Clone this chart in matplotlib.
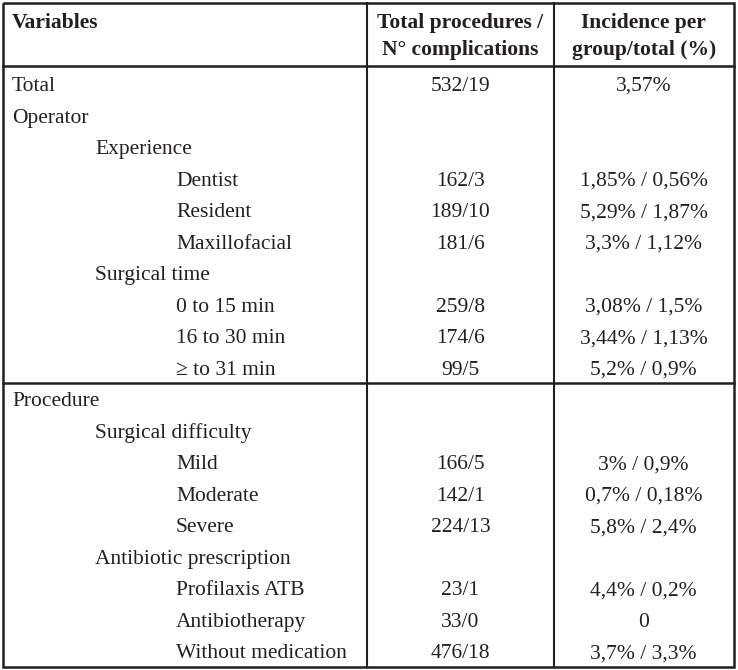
import matplotlib
matplotlib.use("Agg")
import matplotlib.pyplot as plt

# ---- data ----
header_variables = "Variables"
header_procedures = "Total procedures /\nN° complications"
header_incidence = "Incidence per\ngroup/total (%)"

variables = ["Total", "Operator", "Experience", "Dentist", "Resident", "Maxillofacial",
             "Surgical time", "0 to 15 min", "16 to 30 min", "\u2265 to 31 min",
             "Procedure", "Surgical difficulty", "Mild", "Moderate", "Severe",
             "Antibiotic prescription", "Profilaxis ATB", "Antibiotherapy",
             "Without medication"]
levels = [0, 0, 1, 2, 2, 2, 1, 2, 2, 2, 0, 1, 2, 2, 2, 1, 2, 2, 2]
procedures = ["532/19", "", "", "162/3", "189/10", "181/6", "", "259/8", "174/6", "99/5",
              "", "", "166/5", "142/1", "224/13", "", "23/1", "33/0", "476/18"]
incidence = ["3,57%", "", "", "1,85% / 0,56%", "5,29% / 1,87%", "3,3% / 1,12%", "",
             "3,08% / 1,5%", "3,44% / 1,13%", "5,2% / 0,9%", "", "", "3% / 0,9%",
             "0,7% / 0,18%", "5,8% / 2,4%", "", "4,4% / 0,2%", "0", "3,7% / 3,3%"]
section_break_after = 9  # index of last row in first section

# ---- layout ----
W, H = 738, 670
fig = plt.figure(figsize=(W / 100, H / 100), dpi=100)
ax = fig.add_axes([0, 0, 1, 1])
ax.set_xlim(0, W)
ax.set_ylim(H, 0)
ax.axis("off")

plt.rcParams["font.family"] = ["Liberation Serif", "DejaVu Serif"]
color = "#231f20"
fs = 15.5

left, right, top, bottom = 2.5, 733.5, 2.5, 667
col1, col2 = 367, 554
header_line = 66
sep_y = 383
base0 = 91.0
row_dy = 31.52
head_base = (28, 55)
indent = {0: 12, 1: 95, 2: 176}

lw_outer = 1.8
lw_inner = 1.5
# outer border
ax.plot([left, right, right, left, left], [top, top, bottom, bottom, top],
        color=color, lw=lw_outer, solid_joinstyle="miter", solid_capstyle="butt")
# column lines
ax.plot([col1, col1], [top, bottom], color=color, lw=lw_inner)
ax.plot([col2, col2], [top, bottom], color=color, lw=lw_inner)
# header line
ax.plot([left, right], [header_line, header_line], color=color, lw=lw_outer)
# section line
ax.plot([left, right], [sep_y, sep_y], color=color, lw=lw_outer)

# header text
ax.text(12, head_base[0], header_variables, ha="left", va="baseline", fontsize=fs,
        fontweight="bold", color=color)
for xc, txt in [((col1 + col2) / 2, header_procedures), ((col2 + right) / 2, header_incidence)]:
    l1, l2 = txt.split("\n")
    ax.text(xc, head_base[0], l1, ha="center", va="baseline", fontsize=fs,
            fontweight="bold", color=color)
    ax.text(xc, head_base[1], l2, ha="center", va="baseline", fontsize=fs,
            fontweight="bold", color=color)

# rows
for i, (v, lv, p, inc) in enumerate(zip(variables, levels, procedures, incidence)):
    y = base0 + i * row_dy
    ax.text(indent[lv], y, v, ha="left", va="baseline", fontsize=fs, color=color)
    if p:
        ax.text((col1 + col2) / 2, y, p, ha="center", va="baseline", fontsize=fs, color=color)
    if inc:
        ax.text((col2 + right) / 2, y, inc, ha="center", va="baseline", fontsize=fs, color=color)

fig.savefig("out.png", dpi=100, facecolor="white")
